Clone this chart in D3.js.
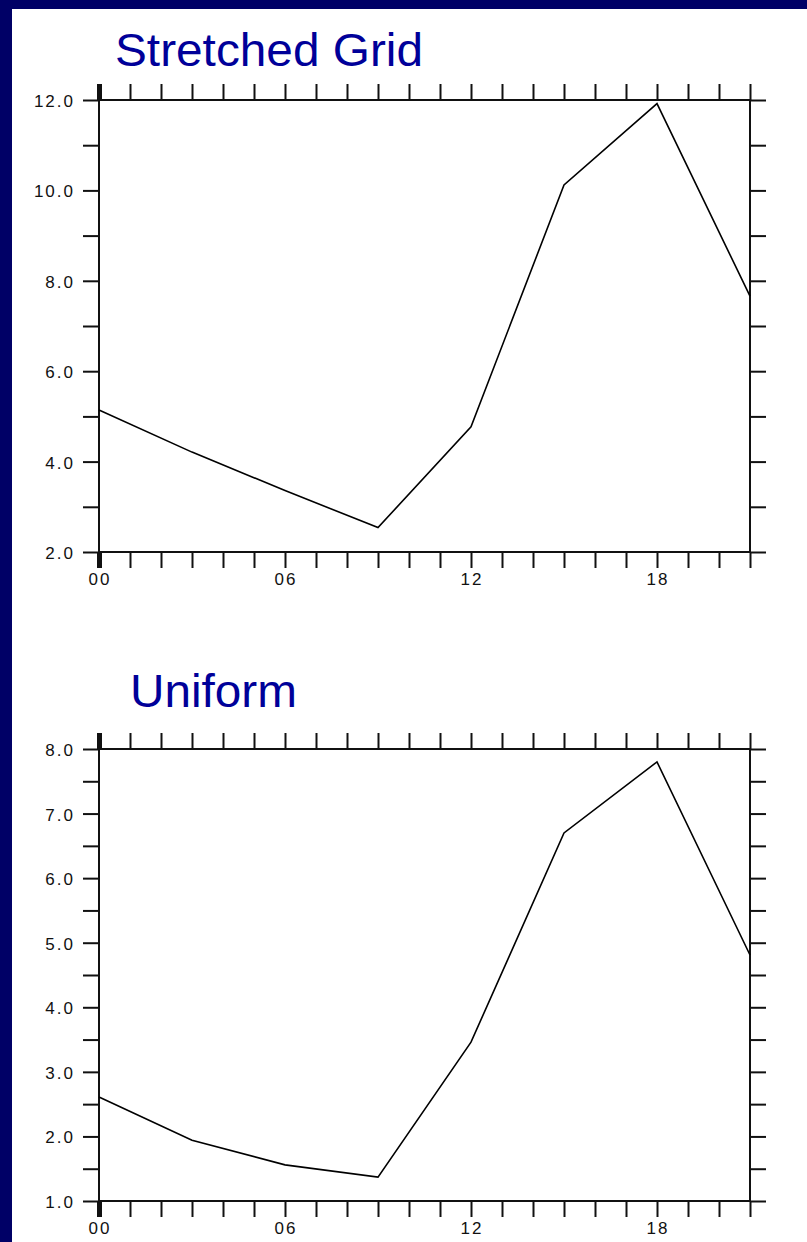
<!DOCTYPE html>
<html>
<head>
<meta charset="utf-8">
<script src="https://cdn.jsdelivr.net/npm/d3@7/dist/d3.min.js"></script>
<style>
  html, body { margin: 0; padding: 0; background: #000066; }
  svg { display: block; }
  .tick-label { font-family: "Liberation Sans", Arial, sans-serif; font-size: 17px; letter-spacing: 2px; fill: #111; }
  .title { font-family: "Liberation Sans", Arial, sans-serif; font-size: 46px; fill: #000099; }
</style>
</head>
<body>
<div id="chart"></div>
<script>
// hours of the day where the series is sampled
const hours = [0, 3, 6, 9, 12, 15, 18, 21];
// values
const stretchedValues = [5.14, 4.21, 3.36, 2.54, 4.77, 10.12, 11.92, 7.66];
const uniformValues = [2.61, 1.94, 1.56, 1.37, 3.46, 6.70, 7.80, 4.81];

// x axis: minor tick every hour, labels every 6 hours
const hourTicks = [0,1,2,3,4,5,6,7,8,9,10,11,12,13,14,15,16,17,18,19,20,21];
const hourLabelValues = [0, 6, 12, 18];
const hourLabels = ["00", "06", "12", "18"];

// y axes
const stretchedTicks = [2,3,4,5,6,7,8,9,10,11,12];
const stretchedLabels = [2, 4, 6, 8, 10, 12];
const uniformTicks = [1,1.5,2,2.5,3,3.5,4,4.5,5,5.5,6,6.5,7,7.5,8];
const uniformLabels = [1, 2, 3, 4, 5, 6, 7, 8];

const W = 807, H = 1242;

const svg = d3.select("#chart").append("svg").attr("width", W).attr("height", H);

// navy frame, white page
svg.append("rect").attr("width", W).attr("height", H).attr("fill", "#000066");
svg.append("rect").attr("x", 12).attr("y", 9).attr("width", W - 12).attr("height", H - 9).attr("fill", "#fff");

class LinePanel {
  constructor(opts) {
    this.top = opts.top;
    this.left = 99;
    this.width = 651;
    this.height = 452;
    this.opts = opts;

    this.x = d3.scaleLinear().domain([0, 21]).range([this.left, this.left + this.width]);
    this.y = d3.scaleLinear().domain(opts.yDomain).range([this.top + this.height, this.top]);

    this.draw();
  }

  draw() {
    const o = this.opts;
    const g = svg.append("g");

    g.append("text")
      .attr("class", "title")
      .attr("x", o.titleX)
      .attr("y", o.titleY)
      .attr("textLength", o.titleLen)
      .attr("lengthAdjust", "spacingAndGlyphs")
      .text(o.title);

    const tickLen = 16;
    const bottom = this.top + this.height;

    // ticks, all pointing outwards
    const axes = [
      d3.axisBottom(this.x).tickValues(hourTicks).tickSize(tickLen).tickSizeOuter(0).tickFormat(""),
      d3.axisTop(this.x).tickValues(hourTicks).tickSize(tickLen).tickSizeOuter(0).tickFormat(""),
      d3.axisLeft(this.y).tickValues(o.yTicks).tickSize(tickLen).tickSizeOuter(0).tickFormat(""),
      d3.axisRight(this.y).tickValues(o.yTicks).tickSize(tickLen).tickSizeOuter(0).tickFormat("")
    ];
    const offsets = [`translate(0,${bottom})`, `translate(0,${this.top})`,
      `translate(${this.left},0)`, `translate(${this.left + this.width},0)`];

    axes.forEach((ax, i) => {
      const a = g.append("g").attr("transform", offsets[i]).call(ax);
      a.select(".domain").remove();
      a.selectAll(".tick line").attr("stroke", "#111").attr("stroke-width", 2);
      // the hour 00 tick is drawn heavy on the top and bottom axes
      if (i < 2) a.selectAll(".tick line").filter(d => d === 0).attr("stroke-width", 5);
    });

    // frame
    g.append("rect")
      .attr("x", this.left).attr("y", this.top)
      .attr("width", this.width).attr("height", this.height)
      .attr("fill", "none").attr("stroke", "#111").attr("stroke-width", 2);

    // labels
    g.selectAll(".ylab")
      .data(o.yLabels)
      .enter()
      .append("text")
      .attr("class", "tick-label")
      .attr("x", 75)
      .attr("y", d => this.y(d) + 7)
      .attr("text-anchor", "end")
      .text(d => d.toFixed(1));

    g.selectAll(".xlab")
      .data(hourLabelValues)
      .enter()
      .append("text")
      .attr("class", "tick-label")
      .attr("x", d => this.x(d) + 1)
      .attr("y", bottom + 33)
      .attr("text-anchor", "middle")
      .text((d, i) => hourLabels[i]);

    const line = d3.line()
      .x((d, i) => this.x(hours[i]))
      .y(d => this.y(d));

    g.append("path")
      .datum(o.values)
      .attr("d", line)
      .attr("fill", "none")
      .attr("stroke", "#000")
      .attr("stroke-width", 1.6);
  }
}

new LinePanel({
  top: 100, yDomain: [2, 12], yTicks: stretchedTicks, yLabels: stretchedLabels,
  values: stretchedValues, title: "Stretched Grid", titleX: 115, titleY: 66, titleLen: 308
});

new LinePanel({
  top: 749, yDomain: [1, 8], yTicks: uniformTicks, yLabels: uniformLabels,
  values: uniformValues, title: "Uniform", titleX: 130, titleY: 707, titleLen: 167
});
</script>
</body>
</html>
